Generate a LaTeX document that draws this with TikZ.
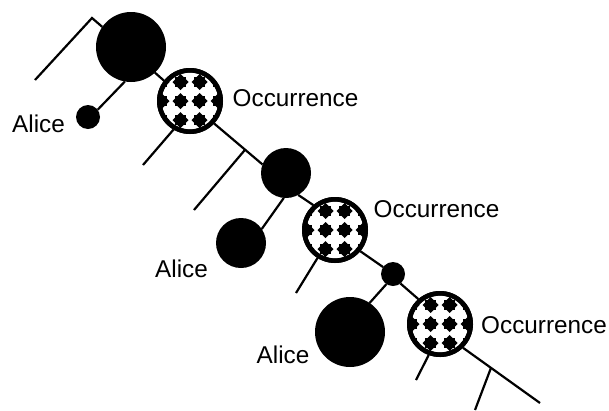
\documentclass[tikz,border=0pt]{standalone}
\usepackage{fontspec}
\setmainfont{Liberation Sans}
\usetikzlibrary{calc}
\tikzset{
  dot/.style={circle, fill=black, draw=none, inner sep=0pt, outer sep=0pt, minimum size=#1},
  occ/.style={circle, draw=black, fill=white, line width=4.6pt, inner sep=0pt, minimum size=61.4pt},
  spine/.style={line width=2.2pt, draw=black},
  lbl/.style={inner sep=0pt, anchor=base west, font=\fontsize{24.3}{28}\selectfont},
}
\newcommand{\blobpat}[1]{%
  \begin{scope}
    \clip (#1.center) circle (30);
    \foreach \dx in {-28.5,-9.5,9.5,28.5}{
      \foreach \dy in {-19,0,19}{
        \begin{scope}[shift={($(#1.center)+(\dx,\dy)$)}]
          \fill (0,8) -- (8,0) -- (0,-8) -- (-8,0) -- cycle;
          \fill (-5.2,-5.2) rectangle (5.2,5.2);
        \end{scope}
      }
    }
  \end{scope}
  \draw[line width=4.6pt] (#1.center) circle (30.7);
}
\begin{document}
\begin{tikzpicture}[x=1pt,y=-1pt]
\useasboundingbox[fill=white] (0,0) rectangle (609,410);

% nodes
\node[dot=70pt] (big1) at (131,47) {};
\node[dot=24pt] (alice1) at (88,117) {};
\node[occ] (occ1) at (190,101) {};
\node[dot=50pt] (b2) at (286,173) {};
\node[dot=50pt] (alice2) at (241,243) {};
\node[occ] (occ2) at (335,230) {};
\node[dot=24pt] (b3) at (393,274) {};
\node[dot=70pt] (alice3) at (350,332) {};
\node[occ] (occ3) at (440,324) {};

\blobpat{occ1}
\blobpat{occ2}
\blobpat{occ3}

% free ends
\coordinate (s0) at (35,80);
\coordinate (s1) at (92,18);
\coordinate (e1) at (143,165);
\coordinate (e2) at (194,210);
\coordinate (e3) at (296,293);
\coordinate (e4) at (416,380);
\coordinate (e5) at (540,403);
\coordinate (e6) at (475,410);

\coordinate (j1) at ($(occ1.-43)!0.64!(b2.160)$);
\coordinate (j2) at ($(occ3.-46)!0.364!(e5)$);

% connectors
\draw[spine] (s0) -- (s1) -- (big1.145);
\draw[spine] (big1.-47) -- (occ1.142);
\draw[spine] (alice1.37) -- (big1.260);
\draw[spine] (occ1.240) -- (e1);
\draw[spine] (occ1.-43) -- (b2.160);
\draw[spine] (j1) -- (e2);
\draw[spine] (alice2.34) -- (b2.265);
\draw[spine] (b2.-61) -- (occ2.131);
\draw[spine] (occ2.238) -- (e3);
\draw[spine] (occ2.-40) -- (b3.145);
\draw[spine] (alice3.56) -- (b3.237.5);
\draw[spine] (b3.-52) -- (occ3.131.5);
\draw[spine] (occ3.250) -- (e4);
\draw[spine] (occ3.-46) -- (e5);
\draw[spine] (j2) -- (e6);

% labels
\node[lbl] (la1) at (12,132) {Alice};
\node[lbl] (la2) at (155,277) {Alice};
\node[lbl] (la3) at (256.5,363) {Alice};
\node[lbl] (lo1) at (232.5,106) {Occurrence};
\node[lbl] (lo2) at (373.5,217) {Occurrence};
\node[lbl] (lo3) at (481,333) {Occurrence};
\end{tikzpicture}
\end{document}
